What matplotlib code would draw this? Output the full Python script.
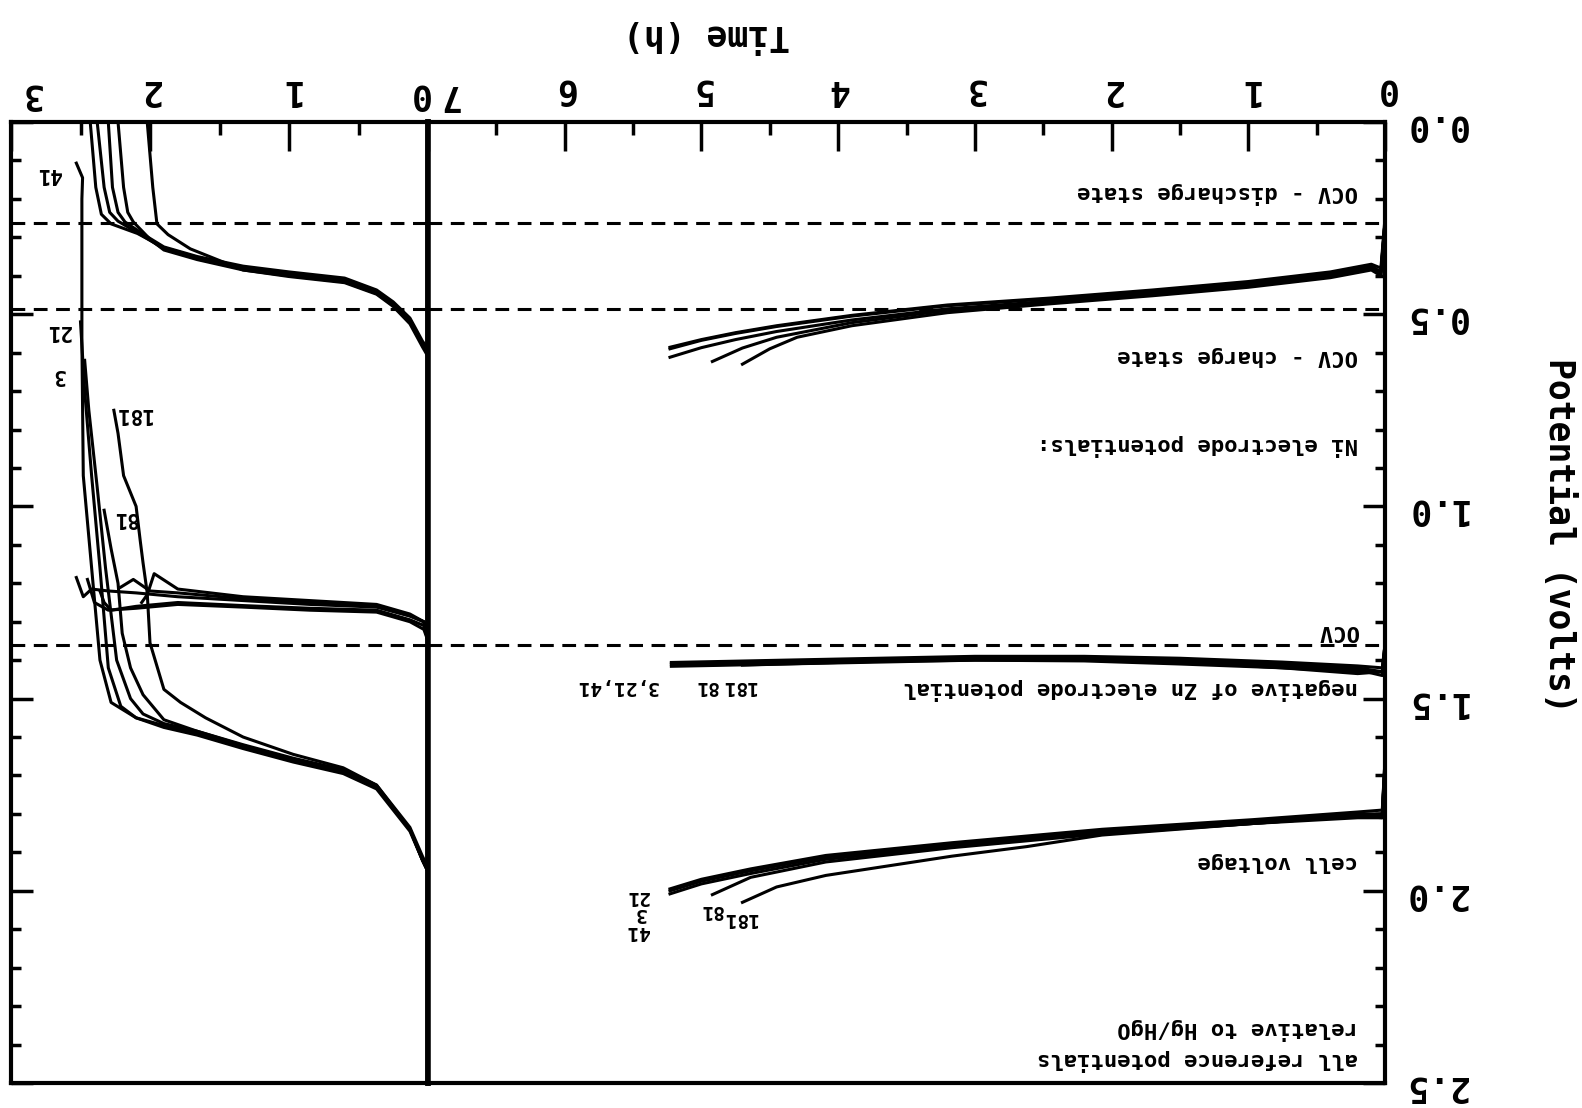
import matplotlib.pyplot as plt
import numpy as np
from matplotlib.transforms import blended_transform_factory

# ---------------- charge panel (0 - 7 h) ----------------
# Ni electrode potential
ni_chg_t = [0.0, 0.03, 0.1, 0.4, 1.0, 1.7, 2.45, 3.2, 3.9, 4.45, 4.75, 5.0, 5.23]
ni_chg_3 = [0.26, 0.39, 0.375, 0.395, 0.42, 0.44, 0.46, 0.478, 0.505, 0.532, 0.55, 0.568, 0.59]
ni_chg_21 = [0.26, 0.40, 0.38, 0.40, 0.425, 0.445, 0.466, 0.486, 0.515, 0.545, 0.566, 0.587, 0.612]
ni_chg_41 = [0.25, 0.38, 0.37, 0.39, 0.415, 0.437, 0.458, 0.476, 0.503, 0.53, 0.548, 0.566, 0.586]
ni_chg_t81 = [0.0, 0.03, 0.1, 0.4, 1.0, 1.7, 2.45, 3.2, 3.9, 4.45, 4.7, 4.92]
ni_chg_81 = [0.26, 0.39, 0.38, 0.40, 0.425, 0.447, 0.468, 0.49, 0.522, 0.56, 0.588, 0.623]
ni_chg_t181 = [0.0, 0.03, 0.1, 0.4, 1.0, 1.7, 2.45, 3.2, 3.9, 4.3, 4.5, 4.7]
ni_chg_181 = [0.26, 0.40, 0.385, 0.405, 0.43, 0.452, 0.473, 0.496, 0.53, 0.56, 0.59, 0.63]

# negative of Zn electrode potential
zn_chg_t = [0.0, 0.02, 0.2, 0.75, 1.5, 2.2, 3.0, 3.7, 4.4, 4.8, 5.22]
zn_chg_3 = [1.36, 1.43, 1.42, 1.41, 1.40, 1.395, 1.395, 1.40, 1.405, 1.408, 1.41]
zn_chg_21 = [1.37, 1.44, 1.425, 1.415, 1.405, 1.40, 1.40, 1.405, 1.41, 1.413, 1.416]
zn_chg_41 = [1.36, 1.42, 1.415, 1.405, 1.395, 1.39, 1.39, 1.395, 1.40, 1.403, 1.406]
zn_chg_t81 = [0.0, 0.02, 0.2, 0.75, 1.5, 2.2, 3.0, 3.7, 4.4, 4.92]
zn_chg_81 = [1.37, 1.43, 1.43, 1.42, 1.405, 1.40, 1.398, 1.402, 1.408, 1.412]
zn_chg_t181 = [0.0, 0.02, 0.2, 0.75, 1.5, 2.2, 3.0, 3.7, 4.4, 4.7]
zn_chg_181 = [1.36, 1.43, 1.435, 1.42, 1.41, 1.402, 1.40, 1.403, 1.41, 1.413]

# cell voltage
cv_chg_t = [0.0, 0.02, 0.2, 0.97, 2.07, 3.17, 4.09, 4.64, 5.0, 5.23]
cv_chg_3 = [1.66, 1.80, 1.80, 1.82, 1.845, 1.88, 1.912, 1.948, 1.975, 2.0]
cv_chg_21 = [1.67, 1.81, 1.805, 1.825, 1.85, 1.885, 1.918, 1.955, 1.982, 2.008]
cv_chg_41 = [1.66, 1.79, 1.795, 1.815, 1.84, 1.875, 1.908, 1.943, 1.97, 1.995]
cv_chg_t81 = [0.0, 0.02, 0.2, 0.97, 2.07, 3.17, 4.09, 4.64, 4.92]
cv_chg_81 = [1.67, 1.80, 1.805, 1.825, 1.852, 1.888, 1.925, 1.965, 2.01]
cv_chg_t181 = [0.0, 0.02, 0.2, 0.97, 2.07, 2.62, 3.17, 4.09, 4.45, 4.7]
cv_chg_181 = [1.67, 1.81, 1.81, 1.825, 1.855, 1.885, 1.91, 1.96, 1.99, 2.03]

# ---------------- discharge panel (0 - 3 h) ----------------
ni_dis_t41 = [0.0, 0.04, 0.13, 0.25, 0.37, 0.6, 1.0, 1.33, 1.66, 1.9, 2.09, 2.28, 2.35, 2.39, 2.43]
ni_dis_41 = [0.60, 0.575, 0.515, 0.472, 0.44, 0.41, 0.395, 0.378, 0.352, 0.327, 0.29, 0.265, 0.24, 0.17, 0.0]
ni_dis_t21 = [0.0, 0.04, 0.13, 0.25, 0.37, 0.6, 1.0, 1.33, 1.66, 1.9, 2.07, 2.23, 2.29, 2.33, 2.38]
ni_dis_21 = [0.60, 0.58, 0.52, 0.476, 0.444, 0.413, 0.398, 0.382, 0.356, 0.33, 0.292, 0.258, 0.235, 0.17, 0.0]
ni_dis_t3 = [0.0, 0.04, 0.13, 0.25, 0.37, 0.6, 1.0, 1.33, 1.66, 1.9, 2.04, 2.18, 2.23, 2.27, 2.30]
ni_dis_3 = [0.59, 0.57, 0.51, 0.468, 0.437, 0.406, 0.39, 0.375, 0.35, 0.325, 0.294, 0.26, 0.235, 0.17, 0.0]
ni_dis_t81 = [0.0, 0.04, 0.13, 0.25, 0.37, 0.6, 1.0, 1.33, 1.66, 1.9, 2.0, 2.12, 2.16, 2.19, 2.23]
ni_dis_81 = [0.60, 0.58, 0.52, 0.478, 0.446, 0.416, 0.40, 0.385, 0.358, 0.333, 0.305, 0.26, 0.235, 0.17, 0.0]
ni_dis_t181 = [0.0, 0.04, 0.13, 0.25, 0.37, 0.6, 1.0, 1.33, 1.71, 1.87, 1.95, 1.98, 2.02]
ni_dis_181 = [0.61, 0.585, 0.525, 0.48, 0.448, 0.418, 0.402, 0.385, 0.33, 0.293, 0.265, 0.17, 0.0]

zn_dis_t3 = [0.0, 0.03, 0.13, 0.37, 0.85, 1.33, 1.8, 2.1, 2.28, 2.33, 2.36]
zn_dis_3 = [1.35, 1.31, 1.295, 1.27, 1.265, 1.258, 1.25, 1.26, 1.27, 1.25, 1.22]
zn_dis_t21 = [0.0, 0.03, 0.13, 0.37, 0.85, 1.33, 1.8, 2.1, 2.3, 2.4, 2.45]
zn_dis_21 = [1.35, 1.32, 1.30, 1.275, 1.27, 1.262, 1.255, 1.265, 1.27, 1.25, 1.19]
zn_dis_t41 = [0.0, 0.03, 0.13, 0.37, 0.85, 1.33, 1.8, 2.1, 2.3, 2.42, 2.48, 2.53]
zn_dis_41 = [1.35, 1.30, 1.285, 1.262, 1.255, 1.245, 1.235, 1.225, 1.22, 1.215, 1.235, 1.185]
zn_dis_t81 = [0.0, 0.03, 0.13, 0.37, 0.85, 1.33, 1.8, 2.0, 2.12, 2.21]
zn_dis_81 = [1.35, 1.30, 1.285, 1.26, 1.25, 1.24, 1.225, 1.22, 1.19, 1.21]
zn_dis_t181 = [0.0, 0.03, 0.13, 0.37, 0.85, 1.33, 1.8, 1.97, 2.02, 2.06]
zn_dis_181 = [1.35, 1.30, 1.28, 1.255, 1.245, 1.235, 1.215, 1.175, 1.23, 1.25]

cv_dis_t41 = [0.0, 0.04, 0.13, 0.37, 0.61, 0.97, 1.33, 1.66, 1.9, 2.1, 2.28, 2.36, 2.42, 2.48, 2.49, 2.49, 2.485, 2.53]
cv_dis_41 = [1.95, 1.92, 1.84, 1.73, 1.69, 1.66, 1.625, 1.59, 1.57, 1.55, 1.51, 1.40, 1.16, 0.92, 0.57, 0.2, 0.145, 0.107]
cv_dis_t21 = [0.0, 0.04, 0.13, 0.37, 0.61, 0.97, 1.33, 1.66, 1.9, 2.1, 2.21, 2.3, 2.36, 2.42, 2.47, 2.5]
cv_dis_21 = [1.95, 1.92, 1.845, 1.735, 1.695, 1.665, 1.63, 1.595, 1.575, 1.55, 1.52, 1.42, 1.16, 0.92, 0.7, 0.52]
cv_dis_t3 = [0.0, 0.04, 0.13, 0.37, 0.61, 0.97, 1.33, 1.66, 1.9, 2.05, 2.14, 2.24, 2.32, 2.38, 2.44, 2.47]
cv_dis_3 = [1.94, 1.91, 1.835, 1.725, 1.685, 1.655, 1.62, 1.585, 1.565, 1.54, 1.50, 1.40, 1.16, 0.95, 0.75, 0.62]
cv_dis_t81 = [0.0, 0.04, 0.13, 0.37, 0.61, 0.97, 1.33, 1.66, 1.9, 2.05, 2.14, 2.2, 2.23, 2.28, 2.33]
cv_dis_81 = [1.95, 1.92, 1.84, 1.73, 1.69, 1.66, 1.622, 1.585, 1.555, 1.49, 1.42, 1.33, 1.2, 1.11, 1.01]
cv_dis_t181 = [0.0, 0.04, 0.13, 0.37, 0.61, 0.97, 1.33, 1.6, 1.78, 1.9, 2.0, 2.02, 2.05, 2.07, 2.1, 2.19, 2.23, 2.26]
cv_dis_181 = [1.95, 1.92, 1.84, 1.725, 1.68, 1.645, 1.60, 1.55, 1.51, 1.476, 1.355, 1.225, 1.147, 1.09, 1.0, 0.92, 0.81, 0.75]

# open circuit levels (dashed)
ocv_levels = [0.262, 0.486, 1.36]

# notes in the charge panel: (text, potential)
notes = [("OCV - discharge state", 0.186), ("OCV - charge state", 0.61),
         ("Ni electrode potentials:", 0.84), ("OCV", 1.325),
         ("negative of Zn electrode potential", 1.474), ("cell voltage", 1.924),
         ("relative to Hg/HgO", 2.36), ("all reference potentials", 2.44)]
# cycle labels: (text, time, potential)
chg_labels = [("3,21,41", 5.62, 1.468), ("81", 4.97, 1.468), ("181", 4.73, 1.468),
              ("21", 5.47, 2.015), ("3", 5.45, 2.06), ("41", 5.47, 2.105),
              ("81", 4.93, 2.05), ("181", 4.72, 2.072)]
dis_labels = [("41", 2.73, 0.136), ("21", 2.66, 0.545), ("3", 2.66, 0.657),
              ("181", 2.12, 0.76), ("81", 2.18, 1.03)]

plt.rcParams['font.family'] = ['DejaVu Sans Mono', 'DejaVu Sans']
plt.rcParams['font.weight'] = 'bold'

W, H = 1582, 1108
fig = plt.figure(figsize=(W / 100, H / 100), dpi=100)
axL = fig.add_axes([11 / W, 25 / H, 417 / W, 961 / H])
axR = fig.add_axes([428 / W, 25 / H, 957 / W, 961 / H])

lw = 2.2
for ax, tmax in ((axL, 3), (axR, 7)):
    ax.set_xlim(tmax, 0)
    ax.set_ylim(2.5, 0)
    for s in ax.spines.values():
        s.set_linewidth(3)
    for lev in ocv_levels:
        ax.axhline(lev, color='black', lw=2.2, ls=(0, (4.5, 2.8)))
    ax.xaxis.tick_top()
    ax.set_xticks(range(tmax + 1))
    ax.set_xticks(np.arange(0.5, tmax, 1.0), minor=True)
    ax.set_yticks(np.arange(0, 2.51, 0.5))
    ax.set_yticks(np.arange(0.1, 2.5, 0.1), minor=True)
    ax.tick_params(axis='x', which='major', direction='in', length=21, width=2.5,
                   pad=11, labelsize=25, labelrotation=180)
    ax.tick_params(axis='x', which='minor', direction='in', length=9, width=2.5)
    ax.tick_params(axis='y', which='major', direction='in', length=16, width=2.5,
                   pad=14, labelsize=25, labelrotation=180)
    ax.tick_params(axis='y', which='minor', direction='in', length=7, width=2.5)

# left (discharge) panel: ticks only on outer edge
axL.yaxis.tick_left()
axL.set_yticklabels([])
axL.set_xticklabels(['', '1', '2', ''])
axR.yaxis.tick_right()
axR.set_yticklabels(['0.0', '0.5', '1.0', '1.5', '2.0', '2.5'])
axR.set_xticklabels(['0', '1', '2', '3', '4', '5', '6', ''])
axL.spines['right'].set_linewidth(4)
axR.spines['left'].set_linewidth(4)

# edge tick labels nudged away from the panel border
trL = blended_transform_factory(axL.transData, fig.transFigure)
trR = blended_transform_factory(axR.transData, fig.transFigure)
ytick = 1 - 95 / H
axL.text(2.86, ytick, '3', transform=trL, fontsize=25, rotation=180, ha='center', va='center', clip_on=False)
axL.text(0.07, ytick, '0', transform=trL, fontsize=25, rotation=180, ha='center', va='center', clip_on=False)
axR.text(6.85, ytick, '7', transform=trR, fontsize=25, rotation=180, ha='center', va='center', clip_on=False)

# charge curves
axR.plot(ni_chg_t, ni_chg_3, 'k', lw=lw)
axR.plot(ni_chg_t, ni_chg_21, 'k', lw=lw)
axR.plot(ni_chg_t, ni_chg_41, 'k', lw=lw)
axR.plot(ni_chg_t81, ni_chg_81, 'k', lw=lw)
axR.plot(ni_chg_t181, ni_chg_181, 'k', lw=lw)
axR.plot(zn_chg_t, zn_chg_3, 'k', lw=lw)
axR.plot(zn_chg_t, zn_chg_21, 'k', lw=lw)
axR.plot(zn_chg_t, zn_chg_41, 'k', lw=lw)
axR.plot(zn_chg_t81, zn_chg_81, 'k', lw=lw)
axR.plot(zn_chg_t181, zn_chg_181, 'k', lw=lw)
axR.plot(cv_chg_t, cv_chg_3, 'k', lw=lw)
axR.plot(cv_chg_t, cv_chg_21, 'k', lw=lw)
axR.plot(cv_chg_t, cv_chg_41, 'k', lw=lw)
axR.plot(cv_chg_t81, cv_chg_81, 'k', lw=lw)
axR.plot(cv_chg_t181, cv_chg_181, 'k', lw=lw)

# discharge curves
axL.plot(ni_dis_t3, ni_dis_3, 'k', lw=lw)
axL.plot(ni_dis_t21, ni_dis_21, 'k', lw=lw)
axL.plot(ni_dis_t41, ni_dis_41, 'k', lw=lw)
axL.plot(ni_dis_t81, ni_dis_81, 'k', lw=lw)
axL.plot(ni_dis_t181, ni_dis_181, 'k', lw=lw)
axL.plot(zn_dis_t3, zn_dis_3, 'k', lw=lw)
axL.plot(zn_dis_t21, zn_dis_21, 'k', lw=lw)
axL.plot(zn_dis_t41, zn_dis_41, 'k', lw=lw)
axL.plot(zn_dis_t81, zn_dis_81, 'k', lw=lw)
axL.plot(zn_dis_t181, zn_dis_181, 'k', lw=lw)
axL.plot(cv_dis_t3, cv_dis_3, 'k', lw=lw)
axL.plot(cv_dis_t21, cv_dis_21, 'k', lw=lw)
axL.plot(cv_dis_t41, cv_dis_41, 'k', lw=lw)
axL.plot(cv_dis_t81, cv_dis_81, 'k', lw=lw)
axL.plot(cv_dis_t181, cv_dis_181, 'k', lw=lw)

for txt, v in notes:
    axR.text(0.2, v, txt, fontsize=16, rotation=180, ha='right', va='center')
for txt, t, v in chg_labels:
    axR.text(t, v, txt, fontsize=14, rotation=180, ha='center', va='center')
for txt, t, v in dis_labels:
    axL.text(t, v, txt, fontsize=15, rotation=180, ha='center', va='center')

fig.text(706 / W, 1 - 35 / H, 'Time (h)', fontsize=25, rotation=180, ha='center', va='center')
fig.text(1559 / W, 1 - 535 / H, 'Potential (volts)', fontsize=25, rotation=270, ha='center', va='center')

fig.savefig('out.png', dpi=100)
